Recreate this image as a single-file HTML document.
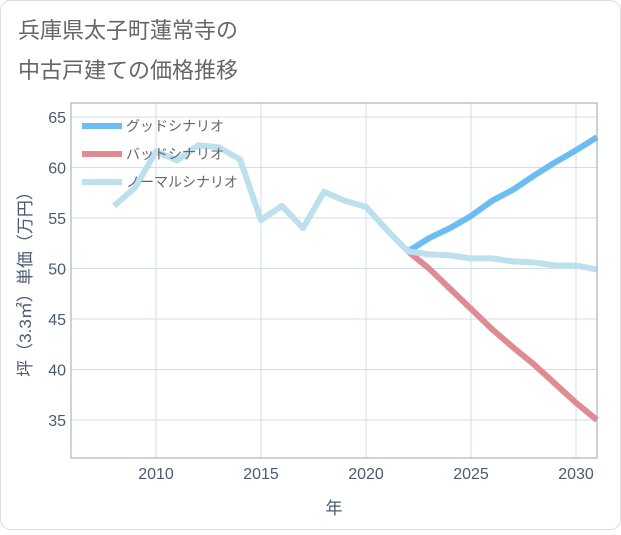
<!DOCTYPE html>
<html><head><meta charset="utf-8"><style>
body{margin:0;background:#fff}
svg text{font-family:"Liberation Sans","Noto Sans CJK JP",sans-serif}
</style></head><body>
<svg width="621" height="530" xmlns="http://www.w3.org/2000/svg">
<rect x="0.5" y="0.5" width="620" height="529" rx="10" fill="#fff" stroke="#ddd"/>
<text x="18" y="38" font-size="22" fill="#666">兵庫県太子町蓮常寺の</text>
<text x="18" y="78" font-size="22" fill="#666">中古戸建ての価格推移</text>
<g id="grid"></g>
<g id="lines"></g>
<rect x="71" y="103" width="526" height="355" fill="none" stroke="#9aa5b1"/>
<g id="legend"></g>
<text x="334" y="514" font-size="17" fill="#4a5a70" text-anchor="middle">年</text>
<text transform="translate(31,280) rotate(-90)" font-size="17" fill="#4a5a70" text-anchor="middle">坪（3.3㎡）単価（万円）</text>
</svg>
<script>
const years=[2008,2009,2010,2011,2012,2013,2014,2015,2016,2017,2018,2019,2020,2021,2022,2023,2024,2025,2026,2027,2028,2029,2030,2031];
const normal=[56.2,58.0,61.6,60.7,62.2,62.0,60.8,54.8,56.2,54.0,57.6,56.7,56.1,53.8,51.7,51.4,51.3,51.0,51.0,50.7,50.6,50.3,50.3,49.9];
const goodYears=[2022,2023,2024,2025,2026,2027,2028,2029,2030,2031];
const good=[51.7,53.0,54.0,55.2,56.7,57.8,59.2,60.5,61.7,63.0];
const bad=[51.7,50.0,48.0,46.0,44.0,42.2,40.5,38.6,36.7,35.0];
const xTicks=[2010,2015,2020,2025,2030];
const yTicks=[35,40,45,50,55,60,65];
const legendLabels=["グッドシナリオ","バッドシナリオ","ノーマルシナリオ"];
const NS="http://www.w3.org/2000/svg";
const X=v=>156+(v-2010)*21, Y=v=>268.5-(v-50)*10.1;
function mk(t,a,p){const e=document.createElementNS(NS,t);for(const k in a)e.setAttribute(k,a[k]);p.appendChild(e);return e;}
const g=document.getElementById('grid');
xTicks.forEach(t=>{
 const l=mk('line',{x1:X(t),x2:X(t),y1:103,y2:458,stroke:'#d3dde6'},g);
 
 
 const tx=mk('text',{x:X(t),y:479,'font-size':16,fill:'#4a5a70','text-anchor':'middle'},g);tx.textContent=t;
 
 
});
yTicks.forEach(t=>{
 const l=mk('line',{x1:71,x2:597,y1:Y(t),y2:Y(t),stroke:'#d3dde6'},g);
 
 
 const tx=mk('text',{x:66,y:Y(t)+6,'font-size':16,fill:'#4a5a70','text-anchor':'end'},g);tx.textContent=t;
 
 
});
const L=document.getElementById('lines');
function line(xs,ys,c,n){const p=mk('polyline',{points:xs.map((x,i)=>X(x)+','+Y(ys[i])).join(' '),fill:'none',stroke:c,'stroke-width':6,'stroke-linejoin':'round'},L);
 
 }
line(goodYears,good,'#6bbdf2','good-scenario-line');
line(goodYears,bad,'#de8b93','bad-scenario-line');
line(years,normal,'#bde0ee','normal-scenario-line');
const lg=document.getElementById('legend');
const cols=['#6bbdf2','#de8b93','#bde0ee'];
legendLabels.forEach((s,i)=>{
 const y=126+i*28;
 const r=mk('rect',{x:82,y:y-3,width:40,height:6,fill:cols[i]},lg);
 
 
 const t=mk('text',{x:126,y:y+5,'font-size':14,fill:'#666'},lg);t.textContent=s;
 
 
});
</script>
</body></html>
